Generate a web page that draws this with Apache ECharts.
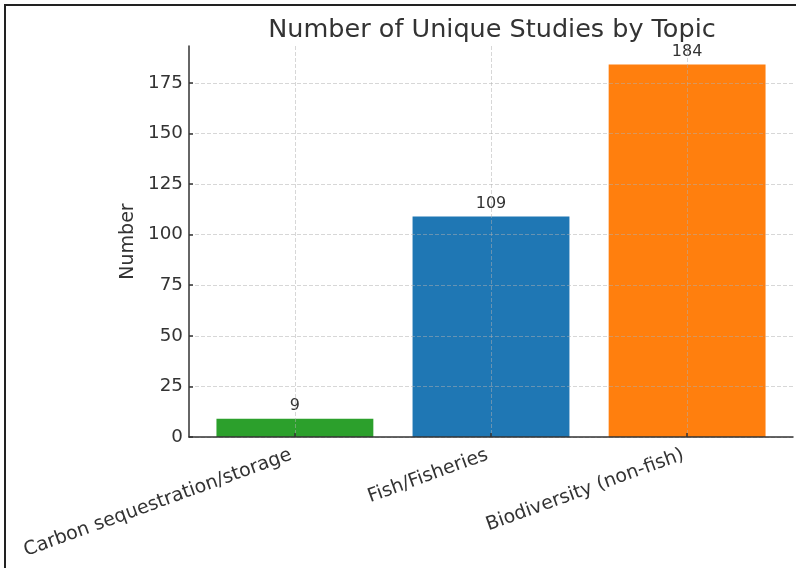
<!DOCTYPE html>
<html>
<head>
<meta charset="utf-8">
<script src="https://cdn.jsdelivr.net/npm/echarts@6/dist/echarts.min.js"></script>
<style>
  html, body { margin: 0; padding: 0; background: #ffffff; }
  #chart { width: 796px; height: 568px; }
</style>
</head>
<body>
<div id="chart"></div>
<script>
// Topics and number of unique studies per topic
const topics = ['Carbon sequestration/storage', 'Fish/Fisheries', 'Biodiversity (non-fish)'];
const studyCounts = [9, 109, 184];
const barColors = ['#2ca02c', '#1f77b4', '#ff7f0e'];
const yTicks = [0, 25, 50, 75, 100, 125, 150, 175];

// Plot area and axis ranges
const plot = { left: 189, right: 3, top: 46, bottom: 131 };
const chartWidth = 796;
const xMin = -0.54, xMax = 2.54;
const yMax = 193.2;
const barFraction = 0.8;
const plotWidth = chartWidth - plot.left - plot.right;
const barWidthPx = barFraction * plotWidth / (xMax - xMin);

const font = 'DejaVu Sans';
const textColor = '#333333';
const axisColor = '#333333';
const gridLine = { show: true, lineStyle: { color: 'rgba(176,176,176,0.5)', type: [4, 2], width: 1 } };

const chart = echarts.init(document.getElementById('chart'), null, { renderer: 'canvas' });

chart.setOption({
  animation: false,
  backgroundColor: '#ffffff',
  title: {
    text: 'Number of Unique Studies by Topic',
    left: plot.left + plotWidth / 2 - 4,
    textAlign: 'center',
    top: 12,
    textStyle: { fontFamily: font, fontSize: 25.5, fontWeight: 'normal', color: textColor }
  },
  graphic: [{
    type: 'polyline',
    shape: { points: [[5, 568], [5, 5], [796, 5]] },
    style: { stroke: '#222222', lineWidth: 2, fill: null },
    silent: true
  }],
  grid: { left: plot.left, right: plot.right, top: plot.top, bottom: plot.bottom, containLabel: false },
  xAxis: {
    type: 'value',
    min: xMin,
    max: xMax,
    z: 3,
    axisLine: { show: true, onZero: false, lineStyle: { color: axisColor, width: 1.5 } },
    axisTick: { show: true, inside: true, length: 4, customValues: topics.map((_, i) => i), lineStyle: { color: axisColor, width: 1.5 } },
    axisLabel: {
      customValues: topics.map((_, i) => i),
      formatter: v => topics[Math.round(v)] || '',
      rotate: 20,
      margin: 16,
      padding: [0, 4, 0, 0],
      fontFamily: font,
      fontSize: 19,
      color: textColor
    },
    splitLine: gridLine
  },
  yAxis: {
    type: 'value',
    min: 0,
    max: yMax,
    z: 3,
    name: 'Number',
    nameLocation: 'middle',
    nameGap: 43,
    nameTextStyle: { fontFamily: font, fontSize: 19, color: textColor },
    axisLine: { show: true, onZero: false, lineStyle: { color: axisColor, width: 1.5 } },
    axisTick: { show: true, inside: true, length: 4, customValues: yTicks, lineStyle: { color: axisColor, width: 1.5 } },
    axisLabel: { customValues: yTicks, margin: 6, fontFamily: font, fontSize: 18.3, color: textColor },
    splitLine: gridLine
  },
  series: [{
    type: 'bar',
    barWidth: barWidthPx,
    z: 1,
    data: studyCounts.map((v, i) => ({ value: [i, v], itemStyle: { color: barColors[i] } })),
    label: {
      show: true,
      position: 'top',
      distance: 5,
      formatter: p => p.value[1],
      fontFamily: font,
      fontSize: 16,
      color: textColor
    }
  }]
});
</script>
</body>
</html>
